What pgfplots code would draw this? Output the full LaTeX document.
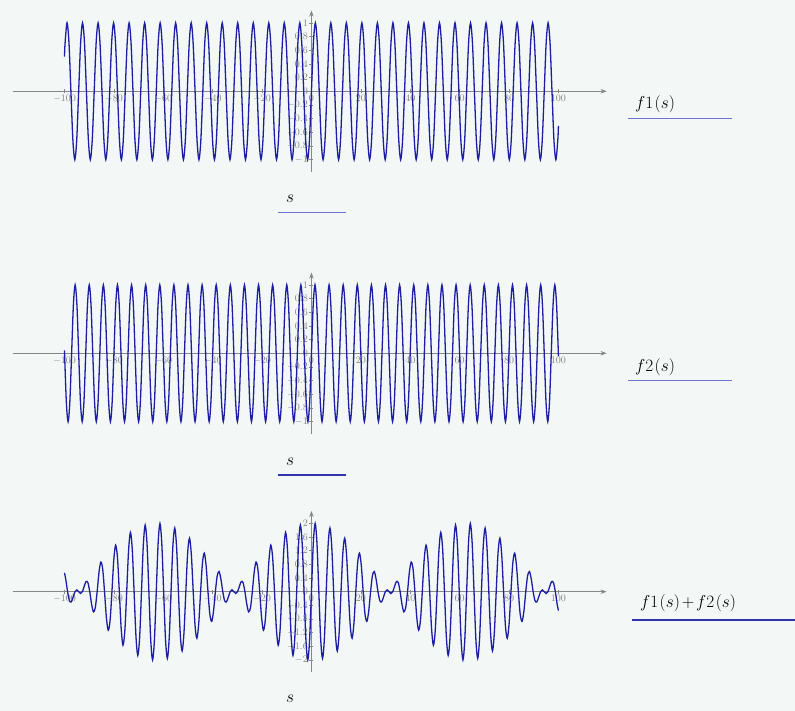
\documentclass[border=0pt]{standalone}
\usepackage{pgfplots}
\pgfplotsset{compat=1.18}
\usetikzlibrary{arrows.meta}
\definecolor{bg}{RGB}{243,247,245}
\definecolor{curve}{RGB}{30,30,165}
\definecolor{axgray}{RGB}{135,135,135}
\definecolor{tickgray}{RGB}{130,130,130}
\definecolor{ulight}{RGB}{115,115,205}
\definecolor{udark}{RGB}{50,50,170}
\pgfplotsset{
  mc/.style={
    scale only axis, width=594pt, height=161.4pt,
    xmin=-121, xmax=119.5,
    axis lines=middle,
    axis line style={draw=axgray, line width=0.7pt, -{Stealth[length=6pt,width=4.5pt]}},
    clip=false,
    xtick={-100,-80,-60,-40,-20,0,20,40,60,80,100},
    tick align=center, major tick length=4pt,
    tick style={draw=axgray, line width=0.6pt},
    ticklabel style={font=\fontsize{10}{11}\selectfont, text=tickgray},
    xticklabel style={inner sep=1.5pt},
    yticklabel style={inner sep=1.5pt},
    hide obscured x ticks=false, hide obscured y ticks=false,
    anchor=south west,
  },
  curvestyle/.style={color=curve, line width=1.3pt, smooth, mark=none},
}
\begin{document}
\begin{tikzpicture}
\useasboundingbox (0pt,0pt) rectangle (795pt,711pt);
\fill[bg] (0pt,0pt) rectangle (795pt,711pt);
% ---------------- f1 ----------------
\begin{axis}[mc, at={(12.6pt,539pt)}, ymin=-1.18, ymax=1.18,
  ytick={-1,-0.8,-0.6,-0.4,-0.2,0,0.2,0.4,0.6,0.8,1}]
\addplot[curvestyle] coordinates {
(-100,0.506) (-99.75,0.707) (-98.96,1) (-98.17,0.707) (-97.39,0) (-96.60,-0.707) (-95.82,-1) (-95.03,-0.707) (-94.25,0)
(-93.46,0.707) (-92.68,1) (-91.89,0.707) (-91.11,0) (-90.32,-0.707) (-89.54,-1) (-88.75,-0.707) (-87.96,0)
(-87.18,0.707) (-86.39,1) (-85.61,0.707) (-84.82,0) (-84.04,-0.707) (-83.25,-1) (-82.47,-0.707) (-81.68,0)
(-80.90,0.707) (-80.11,1) (-79.33,0.707) (-78.54,0) (-77.75,-0.707) (-76.97,-1) (-76.18,-0.707) (-75.40,0)
(-74.61,0.707) (-73.83,1) (-73.04,0.707) (-72.26,0) (-71.47,-0.707) (-70.69,-1) (-69.90,-0.707) (-69.12,0)
(-68.33,0.707) (-67.54,1) (-66.76,0.707) (-65.97,0) (-65.19,-0.707) (-64.40,-1) (-63.62,-0.707) (-62.83,0)
(-62.05,0.707) (-61.26,1) (-60.48,0.707) (-59.69,0) (-58.90,-0.707) (-58.12,-1) (-57.33,-0.707) (-56.55,0)
(-55.76,0.707) (-54.98,1) (-54.19,0.707) (-53.41,0) (-52.62,-0.707) (-51.84,-1) (-51.05,-0.707) (-50.27,0)
(-49.48,0.707) (-48.69,1) (-47.91,0.707) (-47.12,0) (-46.34,-0.707) (-45.55,-1) (-44.77,-0.707) (-43.98,0)
(-43.20,0.707) (-42.41,1) (-41.63,0.707) (-40.84,0) (-40.06,-0.707) (-39.27,-1) (-38.48,-0.707) (-37.70,0)
(-36.91,0.707) (-36.13,1) (-35.34,0.707) (-34.56,0) (-33.77,-0.707) (-32.99,-1) (-32.20,-0.707) (-31.42,0)
(-30.63,0.707) (-29.85,1) (-29.06,0.707) (-28.27,0) (-27.49,-0.707) (-26.70,-1) (-25.92,-0.707) (-25.13,0)
(-24.35,0.707) (-23.56,1) (-22.78,0.707) (-21.99,0) (-21.21,-0.707) (-20.42,-1) (-19.63,-0.707) (-18.85,0)
(-18.06,0.707) (-17.28,1) (-16.49,0.707) (-15.71,0) (-14.92,-0.707) (-14.14,-1) (-13.35,-0.707) (-12.57,0)
(-11.78,0.707) (-11.00,1) (-10.21,0.707) (-9.42,0) (-8.64,-0.707) (-7.85,-1) (-7.07,-0.707) (-6.28,0)
(-5.50,0.707) (-4.71,1) (-3.93,0.707) (-3.14,0) (-2.36,-0.707) (-1.57,-1) (-0.79,-0.707) (0,0)
(0.79,0.707) (1.57,1) (2.36,0.707) (3.14,0) (3.93,-0.707) (4.71,-1) (5.50,-0.707)
(6.28,0) (7.07,0.707) (7.85,1) (8.64,0.707) (9.42,0) (10.21,-0.707) (11.00,-1) (11.78,-0.707)
(12.57,0) (13.35,0.707) (14.14,1) (14.92,0.707) (15.71,0) (16.49,-0.707) (17.28,-1) (18.06,-0.707)
(18.85,0) (19.63,0.707) (20.42,1) (21.21,0.707) (21.99,0) (22.78,-0.707) (23.56,-1) (24.35,-0.707)
(25.13,0) (25.92,0.707) (26.70,1) (27.49,0.707) (28.27,0) (29.06,-0.707) (29.85,-1) (30.63,-0.707)
(31.42,0) (32.20,0.707) (32.99,1) (33.77,0.707) (34.56,0) (35.34,-0.707) (36.13,-1) (36.91,-0.707)
(37.70,0) (38.48,0.707) (39.27,1) (40.06,0.707) (40.84,0) (41.63,-0.707) (42.41,-1) (43.20,-0.707)
(43.98,0) (44.77,0.707) (45.55,1) (46.34,0.707) (47.12,0) (47.91,-0.707) (48.69,-1) (49.48,-0.707)
(50.27,0) (51.05,0.707) (51.84,1) (52.62,0.707) (53.41,0) (54.19,-0.707) (54.98,-1) (55.76,-0.707)
(56.55,0) (57.33,0.707) (58.12,1) (58.90,0.707) (59.69,0) (60.48,-0.707) (61.26,-1) (62.05,-0.707)
(62.83,0) (63.62,0.707) (64.40,1) (65.19,0.707) (65.97,0) (66.76,-0.707) (67.54,-1) (68.33,-0.707)
(69.12,0) (69.90,0.707) (70.69,1) (71.47,0.707) (72.26,0) (73.04,-0.707) (73.83,-1) (74.61,-0.707)
(75.40,0) (76.18,0.707) (76.97,1) (77.75,0.707) (78.54,0) (79.33,-0.707) (80.11,-1) (80.90,-0.707)
(81.68,0) (82.47,0.707) (83.25,1) (84.04,0.707) (84.82,0) (85.61,-0.707) (86.39,-1) (87.18,-0.707)
(87.96,0) (88.75,0.707) (89.54,1) (90.32,0.707) (91.11,0) (91.89,-0.707) (92.68,-1) (93.46,-0.707)
(94.25,0) (95.03,0.707) (95.82,1) (96.60,0.707) (97.39,0) (98.17,-0.707) (98.96,-1) (99.75,-0.707)
(100,-0.506)
};
\end{axis}
% ---------------- f2 ----------------
\begin{axis}[mc, at={(12.6pt,277pt)}, ymin=-1.18, ymax=1.18,
  ytick={-1,-0.8,-0.6,-0.4,-0.2,0,0.2,0.4,0.6,0.8,1}]
\addplot[curvestyle] coordinates {
(-100,0.044) (-99.25,-0.707) (-98.53,-1) (-97.82,-0.707) (-97.10,0)
(-96.39,0.707) (-95.68,1) (-94.96,0.707) (-94.25,0) (-93.53,-0.707) (-92.82,-1) (-92.11,-0.707) (-91.39,0)
(-90.68,0.707) (-89.96,1) (-89.25,0.707) (-88.54,0) (-87.82,-0.707) (-87.11,-1) (-86.39,-0.707) (-85.68,0)
(-84.97,0.707) (-84.25,1) (-83.54,0.707) (-82.82,0) (-82.11,-0.707) (-81.40,-1) (-80.68,-0.707) (-79.97,0)
(-79.25,0.707) (-78.54,1) (-77.83,0.707) (-77.11,0) (-76.40,-0.707) (-75.68,-1) (-74.97,-0.707) (-74.26,0)
(-73.54,0.707) (-72.83,1) (-72.11,0.707) (-71.40,0) (-70.69,-0.707) (-69.97,-1) (-69.26,-0.707) (-68.54,0)
(-67.83,0.707) (-67.12,1) (-66.40,0.707) (-65.69,0) (-64.97,-0.707) (-64.26,-1) (-63.55,-0.707) (-62.83,0)
(-62.12,0.707) (-61.40,1) (-60.69,0.707) (-59.98,0) (-59.26,-0.707) (-58.55,-1) (-57.83,-0.707) (-57.12,0)
(-56.41,0.707) (-55.69,1) (-54.98,0.707) (-54.26,0) (-53.55,-0.707) (-52.84,-1) (-52.12,-0.707) (-51.41,0)
(-50.69,0.707) (-49.98,1) (-49.27,0.707) (-48.55,0) (-47.84,-0.707) (-47.12,-1) (-46.41,-0.707) (-45.70,0)
(-44.98,0.707) (-44.27,1) (-43.55,0.707) (-42.84,0) (-42.13,-0.707) (-41.41,-1) (-40.70,-0.707) (-39.98,0)
(-39.27,0.707) (-38.56,1) (-37.84,0.707) (-37.13,0) (-36.41,-0.707) (-35.70,-1) (-34.99,-0.707) (-34.27,0)
(-33.56,0.707) (-32.84,1) (-32.13,0.707) (-31.42,0) (-30.70,-0.707) (-29.99,-1) (-29.27,-0.707) (-28.56,0)
(-27.85,0.707) (-27.13,1) (-26.42,0.707) (-25.70,0) (-24.99,-0.707) (-24.28,-1) (-23.56,-0.707) (-22.85,0)
(-22.13,0.707) (-21.42,1) (-20.71,0.707) (-19.99,0) (-19.28,-0.707) (-18.56,-1) (-17.85,-0.707) (-17.14,0)
(-16.42,0.707) (-15.71,1) (-14.99,0.707) (-14.28,0) (-13.57,-0.707) (-12.85,-1) (-12.14,-0.707) (-11.42,0)
(-10.71,0.707) (-10.00,1) (-9.28,0.707) (-8.57,0) (-7.85,-0.707) (-7.14,-1) (-6.43,-0.707) (-5.71,0)
(-5.00,0.707) (-4.28,1) (-3.57,0.707) (-2.86,0) (-2.14,-0.707) (-1.43,-1) (-0.71,-0.707) (0,0)
(0.71,0.707) (1.43,1) (2.14,0.707) (2.86,0) (3.57,-0.707) (4.28,-1) (5.00,-0.707)
(5.71,0) (6.43,0.707) (7.14,1) (7.85,0.707) (8.57,0) (9.28,-0.707) (10.00,-1) (10.71,-0.707)
(11.42,0) (12.14,0.707) (12.85,1) (13.57,0.707) (14.28,0) (14.99,-0.707) (15.71,-1) (16.42,-0.707)
(17.14,0) (17.85,0.707) (18.56,1) (19.28,0.707) (19.99,0) (20.71,-0.707) (21.42,-1) (22.13,-0.707)
(22.85,0) (23.56,0.707) (24.28,1) (24.99,0.707) (25.70,0) (26.42,-0.707) (27.13,-1) (27.85,-0.707)
(28.56,0) (29.27,0.707) (29.99,1) (30.70,0.707) (31.42,0) (32.13,-0.707) (32.84,-1) (33.56,-0.707)
(34.27,0) (34.99,0.707) (35.70,1) (36.41,0.707) (37.13,0) (37.84,-0.707) (38.56,-1) (39.27,-0.707)
(39.98,0) (40.70,0.707) (41.41,1) (42.13,0.707) (42.84,0) (43.55,-0.707) (44.27,-1) (44.98,-0.707)
(45.70,0) (46.41,0.707) (47.12,1) (47.84,0.707) (48.55,0) (49.27,-0.707) (49.98,-1) (50.69,-0.707)
(51.41,0) (52.12,0.707) (52.84,1) (53.55,0.707) (54.26,0) (54.98,-0.707) (55.69,-1) (56.41,-0.707)
(57.12,0) (57.83,0.707) (58.55,1) (59.26,0.707) (59.98,0) (60.69,-0.707) (61.40,-1) (62.12,-0.707)
(62.83,0) (63.55,0.707) (64.26,1) (64.97,0.707) (65.69,0) (66.40,-0.707) (67.12,-1) (67.83,-0.707)
(68.54,0) (69.26,0.707) (69.97,1) (70.69,0.707) (71.40,0) (72.11,-0.707) (72.83,-1) (73.54,-0.707)
(74.26,0) (74.97,0.707) (75.68,1) (76.40,0.707) (77.11,0) (77.83,-0.707) (78.54,-1) (79.25,-0.707)
(79.97,0) (80.68,0.707) (81.40,1) (82.11,0.707) (82.82,0) (83.54,-0.707) (84.25,-1) (84.97,-0.707)
(85.68,0) (86.39,0.707) (87.11,1) (87.82,0.707) (88.54,0) (89.25,-0.707) (89.96,-1) (90.68,-0.707)
(91.39,0) (92.11,0.707) (92.82,1) (93.53,0.707) (94.25,0) (94.96,-0.707) (95.68,-1) (96.39,-0.707)
(97.10,0) (97.82,0.707) (98.53,1) (99.25,0.707) (100,-0.044)
};
\end{axis}
% ---------------- f1 + f2 ----------------
\begin{axis}[mc, at={(12.6pt,38.6pt)}, ymin=-2.36, ymax=2.36,
  ytick={-2,-1.6,-1.2,-0.8,-0.4,0,0.4,0.8,1.2,1.6,2}]
\addplot[curvestyle] coordinates {
(-100,0.551) (-99.48,0.366) (-98.74,0) (-97.99,-0.263) (-97.24,-0.298) (-96.49,-0.158) (-95.74,0)
(-95.00,0.053) (-94.25,0) (-93.50,-0.053) (-92.75,0) (-92.00,0.158) (-91.26,0.298) (-90.51,0.263) (-89.76,0)
(-89.01,-0.366) (-88.26,-0.590) (-87.52,-0.467) (-86.77,0) (-86.02,0.566) (-85.27,0.868) (-84.52,0.661) (-83.78,0)
(-83.03,-0.752) (-82.28,-1.127) (-81.53,-0.840) (-80.78,0) (-80.04,0.922) (-79.29,1.360) (-78.54,1.000) (-77.79,0)
(-77.04,-1.072) (-76.30,-1.564) (-75.55,-1.138) (-74.80,0) (-74.05,1.197) (-73.30,1.732) (-72.56,1.250) (-71.81,0)
(-71.06,-1.296) (-70.31,-1.862) (-69.56,-1.335) (-68.82,0) (-68.07,1.366) (-67.32,1.950) (-66.57,1.390) (-65.82,0)
(-65.08,-1.405) (-64.33,-1.994) (-63.58,-1.413) (-62.83,0) (-62.08,1.413) (-61.34,1.994) (-60.59,1.405) (-59.84,0)
(-59.09,-1.390) (-58.34,-1.950) (-57.60,-1.366) (-56.85,0) (-56.10,1.335) (-55.35,1.862) (-54.60,1.296) (-53.86,0)
(-53.11,-1.250) (-52.36,-1.732) (-51.61,-1.197) (-50.86,0) (-50.12,1.138) (-49.37,1.564) (-48.62,1.072) (-47.87,0)
(-47.12,-1.000) (-46.38,-1.360) (-45.63,-0.922) (-44.88,0) (-44.13,0.840) (-43.38,1.127) (-42.64,0.752) (-41.89,0)
(-41.14,-0.661) (-40.39,-0.868) (-39.64,-0.566) (-38.90,0) (-38.15,0.467) (-37.40,0.590) (-36.65,0.366) (-35.90,0)
(-35.16,-0.263) (-34.41,-0.298) (-33.66,-0.158) (-32.91,0) (-32.16,0.053) (-31.42,0) (-30.67,-0.053) (-29.92,0)
(-29.17,0.158) (-28.42,0.298) (-27.68,0.263) (-26.93,0) (-26.18,-0.366) (-25.43,-0.590) (-24.68,-0.467) (-23.94,0)
(-23.19,0.566) (-22.44,0.868) (-21.69,0.661) (-20.94,0) (-20.20,-0.752) (-19.45,-1.127) (-18.70,-0.840) (-17.95,0)
(-17.20,0.922) (-16.46,1.360) (-15.71,1.000) (-14.96,0) (-14.21,-1.072) (-13.46,-1.564) (-12.72,-1.138) (-11.97,0)
(-11.22,1.197) (-10.47,1.732) (-9.72,1.250) (-8.98,0) (-8.23,-1.296) (-7.48,-1.862) (-6.73,-1.335) (-5.98,0)
(-5.24,1.366) (-4.49,1.950) (-3.74,1.390) (-2.99,0) (-2.24,-1.405) (-1.50,-1.994) (-0.75,-1.413) (0,0)
(0.75,1.413) (1.50,1.994) (2.24,1.405) (2.99,0) (3.74,-1.390) (4.49,-1.950) (5.24,-1.366)
(5.98,0) (6.73,1.335) (7.48,1.862) (8.23,1.296) (8.98,0) (9.72,-1.250) (10.47,-1.732) (11.22,-1.197)
(11.97,0) (12.72,1.138) (13.46,1.564) (14.21,1.072) (14.96,0) (15.71,-1.000) (16.46,-1.360) (17.20,-0.922)
(17.95,0) (18.70,0.840) (19.45,1.127) (20.20,0.752) (20.94,0) (21.69,-0.661) (22.44,-0.868) (23.19,-0.566)
(23.94,0) (24.68,0.467) (25.43,0.590) (26.18,0.366) (26.93,0) (27.68,-0.263) (28.42,-0.298) (29.17,-0.158)
(29.92,0) (30.67,0.053) (31.42,0) (32.16,-0.053) (32.91,0) (33.66,0.158) (34.41,0.298) (35.16,0.263)
(35.90,0) (36.65,-0.366) (37.40,-0.590) (38.15,-0.467) (38.90,0) (39.64,0.566) (40.39,0.868) (41.14,0.661)
(41.89,0) (42.64,-0.752) (43.38,-1.127) (44.13,-0.840) (44.88,0) (45.63,0.922) (46.38,1.360) (47.12,1.000)
(47.87,0) (48.62,-1.072) (49.37,-1.564) (50.12,-1.138) (50.86,0) (51.61,1.197) (52.36,1.732) (53.11,1.250)
(53.86,0) (54.60,-1.296) (55.35,-1.862) (56.10,-1.335) (56.85,0) (57.60,1.366) (58.34,1.950) (59.09,1.390)
(59.84,0) (60.59,-1.405) (61.34,-1.994) (62.08,-1.413) (62.83,0) (63.58,1.413) (64.33,1.994) (65.08,1.405)
(65.82,0) (66.57,-1.390) (67.32,-1.950) (68.07,-1.366) (68.82,0) (69.56,1.335) (70.31,1.862) (71.06,1.296)
(71.81,0) (72.56,-1.250) (73.30,-1.732) (74.05,-1.197) (74.80,0) (75.55,1.138) (76.30,1.564) (77.04,1.072)
(77.79,0) (78.54,-1.000) (79.29,-1.360) (80.04,-0.922) (80.78,0) (81.53,0.840) (82.28,1.127) (83.03,0.752)
(83.78,0) (84.52,-0.661) (85.27,-0.868) (86.02,-0.566) (86.77,0) (87.52,0.467) (88.26,0.590) (89.01,0.366)
(89.76,0) (90.51,-0.263) (91.26,-0.298) (92.00,-0.158) (92.75,0) (93.50,0.053) (94.25,0) (95.00,-0.053)
(95.74,0) (96.49,0.158) (97.24,0.298) (97.99,0.263) (98.74,0) (99.48,-0.366) (100,-0.551)
};
\end{axis}
% ---------------- labels ----------------
\begin{scope}[every node/.style={font=\fontsize{17.5}{20}\selectfont, inner sep=0pt}]
\node[anchor=base west] at (635pt,602pt) {$f1\mkern1.5mu(s)$};
\draw[ulight, line width=1.2pt] (628pt,592.3pt) -- (732pt,592.3pt);
\node[anchor=base west] at (286pt,508.3pt) {$s$};
\draw[ulight, line width=1.2pt] (278pt,498.3pt) -- (346pt,498.3pt);
\node[anchor=base west] at (635pt,339.7pt) {$f2\mkern1.5mu(s)$};
\draw[ulight, line width=1.2pt] (628pt,330.3pt) -- (732pt,330.3pt);
\node[anchor=base west] at (286pt,245.5pt) {$s$};
\draw[udark, line width=2pt] (278pt,236pt) -- (346pt,236pt);
\node[anchor=base west] at (640pt,103pt) {$f1\mkern1.5mu(s)\mkern-2mu+\mkern-2mu f2\mkern1.5mu(s)$};
\draw[udark, line width=2pt] (632pt,91pt) -- (795pt,91pt);
\node[anchor=base west] at (286pt,8.5pt) {$s$};
\end{scope}
\end{tikzpicture}
\end{document}
